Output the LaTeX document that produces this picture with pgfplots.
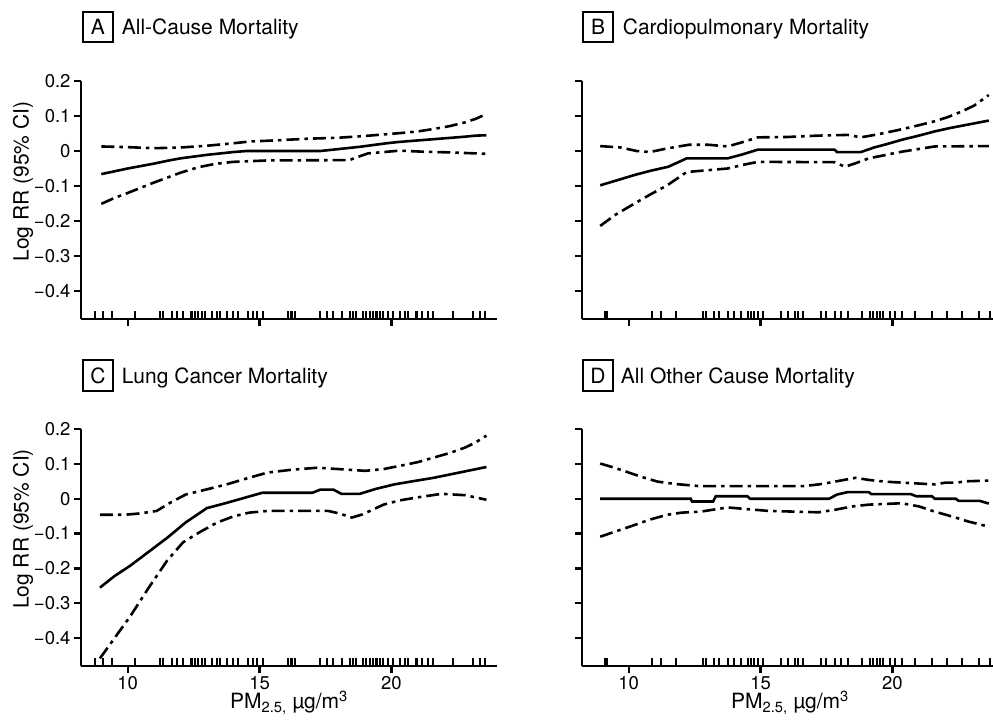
\documentclass[border=0pt]{standalone}
\usepackage{fontspec}
\setmainfont{TeX Gyre Heros}
\usepackage{pgfplots}
\usepackage{pgfplotstable}
\pgfplotsset{compat=1.18}

\pgfplotstableread{
x y
8.76 -0.4686
9.08 -0.4686
9.39 -0.4686
10.28 -0.4686
11.22 -0.4686
11.35 -0.4686
11.67 -0.4686
11.86 -0.4686
12.11 -0.4686
12.42 -0.4686
12.55 -0.4686
12.67 -0.4686
12.80 -0.4686
12.93 -0.4686
13.18 -0.4686
13.37 -0.4686
13.50 -0.4686
13.75 -0.4686
14.00 -0.4686
14.19 -0.4686
14.57 -0.4686
14.76 -0.4686
14.89 -0.4686
15.14 -0.4686
16.08 -0.4686
16.21 -0.4686
16.34 -0.4686
17.28 -0.4686
17.54 -0.4686
17.79 -0.4686
18.11 -0.4686
18.42 -0.4686
18.55 -0.4686
18.67 -0.4686
18.92 -0.4686
19.05 -0.4686
19.18 -0.4686
19.30 -0.4686
19.43 -0.4686
19.56 -0.4686
19.68 -0.4686
19.87 -0.4686
20.06 -0.4686
20.31 -0.4686
20.50 -0.4686
20.63 -0.4686
20.95 -0.4686
21.14 -0.4686
21.39 -0.4686
21.58 -0.4686
22.33 -0.4686
23.09 -0.4686
23.34 -0.4686
23.53 -0.4686
}\rugA

\pgfplotstableread{
x y
9.11 -0.4686
9.18 -0.4686
10.89 -0.4686
11.21 -0.4686
11.78 -0.4686
12.80 -0.4686
12.92 -0.4686
13.24 -0.4686
13.43 -0.4686
13.75 -0.4686
14.00 -0.4686
14.26 -0.4686
14.51 -0.4686
14.64 -0.4686
14.76 -0.4686
14.89 -0.4686
15.08 -0.4686
15.78 -0.4686
16.03 -0.4686
16.29 -0.4686
16.41 -0.4686
16.61 -0.4686
17.30 -0.4686
17.49 -0.4686
17.81 -0.4686
18.06 -0.4686
18.32 -0.4686
18.83 -0.4686
19.14 -0.4686
19.27 -0.4686
19.40 -0.4686
19.52 -0.4686
19.65 -0.4686
19.90 -0.4686
20.10 -0.4686
20.35 -0.4686
20.86 -0.4686
21.49 -0.4686
22.06 -0.4686
22.64 -0.4686
23.27 -0.4686
23.71 -0.4686
}\rugB

\pgfplotsset{
  panel/.style={
    scale only axis, width=416pt, height=238pt,
    xmin=8.23, xmax=24.0, ymin=-0.48, ymax=0.2,
    axis x line*=bottom, axis y line*=left,
    axis line style={line width=2.5pt},
    tick align=outside, major tick length=7pt,
    every tick/.style={line width=2.3pt, black},
    xtick={10,15,20},
    ytick={-0.4,-0.3,-0.2,-0.1,0,0.1,0.2},
    tick label style={font=\fontsize{18.5}{20}\selectfont},
    label style={font=\fontsize{21}{24}\selectfont},
    clip=false,
  },
  ylabs/.style={
    yticklabels={−0.4,−0.3,−0.2,−0.1,0,0.1,0.2},
    ylabel={Log RR (95\% CI)},
    ylabel style={at={(axis description cs:-0.1394,0.578)}, anchor=center},
  },
  noylabs/.style={yticklabels={}},
  xlabs/.style={
    xticklabels={10,15,20},
    xlabel={PM\textsubscript{2.5,} µg/m\textsuperscript{3}},
    xlabel style={at={(axis description cs:0.5,-0.1814)}, anchor=base},
  },
  noxlabs/.style={xticklabels={}},
  mid/.style={line width=2.6pt, black},
  ci/.style={line width=2.6pt, black, dash pattern=on 13pt off 5pt on 3.5pt off 5pt},
  rug/.style={only marks, mark=|, mark size=3.6pt, mark options={line width=2.1pt, black}},
}

\begin{document}
\begin{tikzpicture}
\useasboundingbox (0pt,0pt) rectangle (993pt,-725pt);

% Panel A
\begin{axis}[panel, ylabs, noxlabs, at={(81pt,-319pt)}, anchor=south west]
\addplot[rug] table {\rugA};
\addplot[mid] coordinates {(9.0,-0.066) (9.5,-0.058) (10,-0.050) (10.5,-0.043) (11,-0.036) (11.5,-0.028) (12,-0.021) (12.5,-0.016) (13,-0.011) (13.5,-0.007) (14,-0.003) (14.5,0.000) (17.3,0.000) (17.8,0.004) (18.3,0.008) (18.8,0.012) (19.3,0.017) (19.8,0.022) (20.3,0.026) (20.8,0.029) (21.3,0.032) (21.8,0.035) (22.3,0.038) (22.8,0.041) (23.2,0.044) (23.6,0.045)};
\addplot[ci] coordinates {(9.0,0.013) (10,0.011) (11,0.008) (12,0.010) (13,0.015) (14,0.022) (14.6,0.027) (15.5,0.030) (16.8,0.035) (18,0.038) (19,0.043) (20.3,0.051) (21,0.056) (21.6,0.063) (22.2,0.071) (22.8,0.082) (23.2,0.092) (23.6,0.106)};
\addplot[ci] coordinates {(9.0,-0.151) (9.5,-0.134) (10,-0.120) (10.5,-0.105) (11,-0.090) (11.5,-0.076) (12,-0.062) (12.7,-0.046) (13.3,-0.037) (14.0,-0.031) (15.3,-0.027) (18.4,-0.026) (18.8,-0.015) (19.1,-0.007) (20.3,0.001) (21.2,-0.002) (22.2,-0.004) (23.6,-0.008)};
\end{axis}

% Panel B
\begin{axis}[panel, noylabs, noxlabs, at={(582pt,-319pt)}, anchor=south west]
\addplot[rug] table {\rugB};
\addplot[mid] coordinates {(8.92,-0.098) (9.5,-0.085) (10.2,-0.069) (10.8,-0.057) (11.5,-0.045) (12.2,-0.021) (13.75,-0.021) (14.3,-0.010) (14.9,0.004) (17.8,0.004) (17.9,-0.003) (18.8,-0.003) (19.3,0.010) (19.8,0.020) (20.35,0.032) (21.0,0.044) (21.6,0.056) (22.2,0.066) (22.9,0.076) (23.65,0.087)};
\addplot[ci] coordinates {(8.92,0.014) (9.7,0.010) (10.3,0.000) (10.8,-0.003) (11.5,0.008) (12.3,0.018) (13.0,0.018) (13.75,0.013) (14.3,0.025) (14.9,0.039) (16.0,0.040) (17.2,0.044) (18.3,0.046) (18.8,0.039) (19.4,0.047) (20.1,0.058) (20.8,0.070) (21.6,0.085) (22.1,0.097) (22.6,0.112) (23.1,0.130) (23.65,0.160)};
\addplot[ci] coordinates {(8.92,-0.214) (9.5,-0.182) (10.2,-0.151) (10.8,-0.125) (11.46,-0.098) (12.2,-0.060) (13.75,-0.050) (14.3,-0.040) (14.9,-0.031) (17.8,-0.032) (18.2,-0.045) (18.6,-0.035) (19.1,-0.021) (20.35,-0.002) (21.6,0.013) (23.65,0.014)};
\end{axis}

% Panel C
\begin{axis}[panel, ylabs, xlabs, height=237pt, at={(81pt,-666pt)}, anchor=south west]
\addplot[rug] table {\rugA};
\addplot[mid] coordinates {(8.95,-0.255) (9.5,-0.222) (10.1,-0.192) (10.8,-0.152) (11.5,-0.112) (12.2,-0.068) (13.0,-0.027) (13.7,-0.013) (14.4,0.002) (15.1,0.017) (17.0,0.017) (17.3,0.026) (17.8,0.026) (18.1,0.014) (18.8,0.014) (19.4,0.028) (20.1,0.041) (20.8,0.050) (21.6,0.060) (22.5,0.074) (23.6,0.091)};
\addplot[ci] coordinates {(8.95,-0.046) (9.9,-0.046) (10.5,-0.042) (11.1,-0.035) (11.6,-0.012) (12.2,0.012) (12.9,0.025) (13.75,0.041) (14.5,0.058) (15.3,0.075) (16.2,0.083) (17.2,0.089) (18.2,0.084) (19.0,0.080) (19.7,0.085) (20.3,0.094) (21.0,0.105) (21.6,0.118) (22.2,0.131) (22.8,0.147) (23.2,0.162) (23.6,0.181)};
\addplot[ci] coordinates {(8.95,-0.458) (9.5,-0.400) (10.1,-0.337) (10.8,-0.255) (11.5,-0.177) (12.1,-0.125) (12.75,-0.095) (13.4,-0.068) (14.0,-0.051) (14.6,-0.040) (15.3,-0.035) (17.6,-0.035) (18.0,-0.042) (18.5,-0.054) (18.9,-0.045) (19.7,-0.017) (20.3,-0.005) (21.0,0.004) (21.9,0.014) (22.8,0.010) (23.6,-0.003)};
\end{axis}

% Panel D
\begin{axis}[panel, noylabs, xlabs, height=237pt, at={(582pt,-666pt)}, anchor=south west]
\addplot[rug] table {\rugB};
\addplot[mid] coordinates {(8.92,0) (12.35,0) (12.4,-0.008) (13.2,-0.008) (13.3,0.007) (14.5,0.007) (14.6,0) (17.6,0) (17.9,0.012) (18.3,0.019) (19.1,0.019) (19.2,0.013) (20.7,0.013) (20.9,0.007) (21.5,0.007) (21.6,0) (22.4,0) (22.5,-0.006) (23.3,-0.006) (23.65,-0.014)};
\addplot[ci] coordinates {(8.92,0.101) (9.5,0.088) (10.2,0.070) (10.6,0.060) (11.1,0.049) (11.8,0.042) (12.7,0.036) (16.6,0.036) (17.2,0.041) (17.6,0.046) (18.1,0.053) (18.6,0.060) (19.1,0.054) (19.7,0.049) (21.6,0.041) (22.0,0.046) (22.4,0.046) (22.8,0.050) (23.65,0.052)};
\addplot[ci] coordinates {(8.92,-0.109) (9.5,-0.094) (10.2,-0.076) (10.8,-0.060) (11.46,-0.046) (12.0,-0.040) (12.73,-0.037) (13.75,-0.025) (14.5,-0.030) (15.3,-0.035) (17.2,-0.039) (17.8,-0.032) (18.5,-0.022) (19.1,-0.017) (20.35,-0.013) (21.0,-0.022) (21.6,-0.037) (22.3,-0.052) (22.9,-0.066) (23.65,-0.080)};
\end{axis}

% Panel titles
\tikzset{box/.style={draw, line width=2pt, minimum width=29.5pt, minimum height=30.5pt, inner sep=0pt, font=\fontsize{21}{21}\selectfont},
         ttl/.style={anchor=base west, inner sep=0pt, font=\fontsize{21}{21}\selectfont}}
\node[box] at (98pt,-27.2pt) {A};
\node[ttl] at (121.7pt,-35pt) {All-Cause Mortality};
\node[box] at (598pt,-27.2pt) {B};
\node[ttl] at (622.7pt,-35pt) {Cardiopulmonary Mortality};
\node[box] at (98pt,-375.5pt) {C};
\node[ttl] at (121.7pt,-383.3pt) {Lung Cancer Mortality};
\node[box] at (598pt,-375.5pt) {D};
\node[ttl] at (620.7pt,-383.3pt) {All Other Cause Mortality};
\end{tikzpicture}
\end{document}
